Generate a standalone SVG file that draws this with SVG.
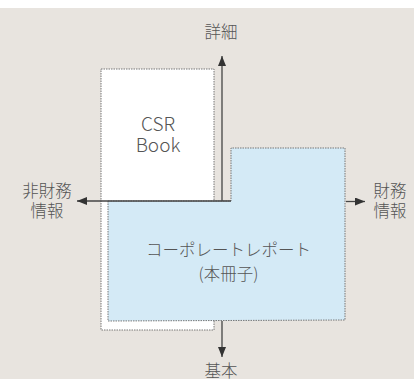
<svg xmlns="http://www.w3.org/2000/svg" width="414" height="379" viewBox="0 0 414 379">
<defs>
<marker id="ah" viewBox="0 0 10 8" refX="10" refY="4" markerWidth="10" markerHeight="8" markerUnits="userSpaceOnUse" orient="auto">
<path d="M0,0 L10,4 L0,8 Z" fill="#333"/>
</marker>
<style>
.t{font-family:"Noto Sans CJK JP","Noto Sans",sans-serif;fill:#555;font-size:16.5px;font-weight:300;text-anchor:middle}
.box{stroke:#777;stroke-width:1;stroke-dasharray:1.5 1}
.ax{stroke:#444;stroke-width:1.3;fill:none}
</style>
</defs>
<rect x="0" y="0" width="414" height="379" fill="#e8e4df"/>
<rect x="0" y="0" width="414" height="8" fill="#ffffff"/>
<g id="csr-book">
<rect class="box" x="101" y="69" width="113" height="261" fill="#ffffff"/>
<text class="t" x="158" y="131" style="font-size:19px">CSR</text>
<text class="t" x="158" y="152" style="font-size:19px">Book</text>
</g>
<g id="connectors">
<line class="ax" x1="222" y1="201" x2="222" y2="56" marker-end="url(#ah)"/>
</g>
<g id="corporate-report">
<path class="box" d="M108,201 L231,201 L231,148 L345,148 L345,320 L108,321 Z" fill="#d4eaf6"/>
<text class="t" x="228.5" y="256">コーポレートレポート</text>
<text class="t" x="228.5" y="280">(本冊子)</text>
</g>
<g id="axes">
<line class="ax" x1="231" y1="201" x2="77" y2="201" marker-end="url(#ah)"/>
<line class="ax" x1="346" y1="201.5" x2="365" y2="201.5" marker-end="url(#ah)"/>
<line class="ax" x1="222" y1="321" x2="222" y2="357" marker-end="url(#ah)"/>
</g>
<g id="labels">
<text class="t" x="221" y="38">詳細</text>
<text class="t" x="221" y="377">基本</text>
<text class="t" x="47" y="197">非財務</text>
<text class="t" x="47" y="217">情報</text>
<text class="t" x="390" y="197">財務</text>
<text class="t" x="390" y="217">情報</text>
</g>
</svg>
